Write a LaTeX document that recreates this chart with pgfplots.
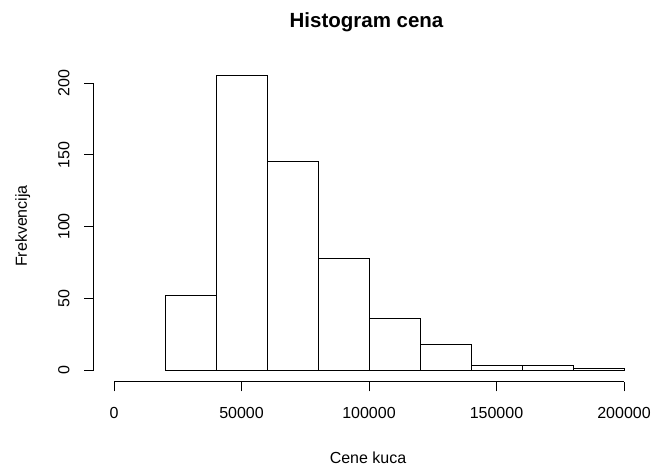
\documentclass[border=0pt]{standalone}
\usepackage{pgfplots}
\pgfplotsset{compat=1.18}
\usepackage{fontspec}
\setmainfont{Liberation Sans}
\begin{document}
\begin{tikzpicture}[x=1pt,y=1pt]
\path[use as bounding box] (0,0) rectangle (655,-468);
\begin{axis}[
  at={(93.6pt,-381.8pt)}, anchor=south west,
  scale only axis, width=550.8pt, height=317.8pt,
  xmin=-8000, xmax=208000, ymin=-8.2, ymax=213.2,
  axis x line*=bottom, axis y line*=left,
  x axis line style={-, shorten <=20.4pt, shorten >=20.4pt, line width=0.8pt},
  y axis line style={-, shorten <=11.8pt, shorten >=18.9pt, line width=0.8pt},
  xtick={0,50000,100000,150000,200000},
  ytick={0,50,100,150,200},
  scaled x ticks=false,
  xticklabel style={/pgf/number format/fixed, /pgf/number format/1000 sep={}},
  /pgf/number format/assume math mode=true,
  tick label style={font=\fontsize{16}{19}\selectfont},
  yticklabel style={rotate=90, anchor=south},
  xticklabel shift=12pt, yticklabel shift=11pt,
  tick align=outside, major tick length=9.6pt,
  tick style={black, line width=0.8pt},
  clip=false,
]
\addplot[ybar interval, fill=white, draw=black, line width=0.8pt] coordinates {
  (20000,52) (40000,205) (60000,145) (80000,78) (100000,36)
  (120000,18) (140000,3) (160000,3) (180000,1) (200000,1)
};
\end{axis}
\node[anchor=base, font=\bfseries\fontsize{20.5}{24}\selectfont] at (366.5,-28) {Histogram cena};
\node[anchor=base, font=\fontsize{16}{19}\selectfont] at (368,-463) {Cene kuca};
\node[anchor=base, rotate=90, font=\fontsize{16}{19}\selectfont] at (27,-226) {Frekvencija};
\end{tikzpicture}
\end{document}
